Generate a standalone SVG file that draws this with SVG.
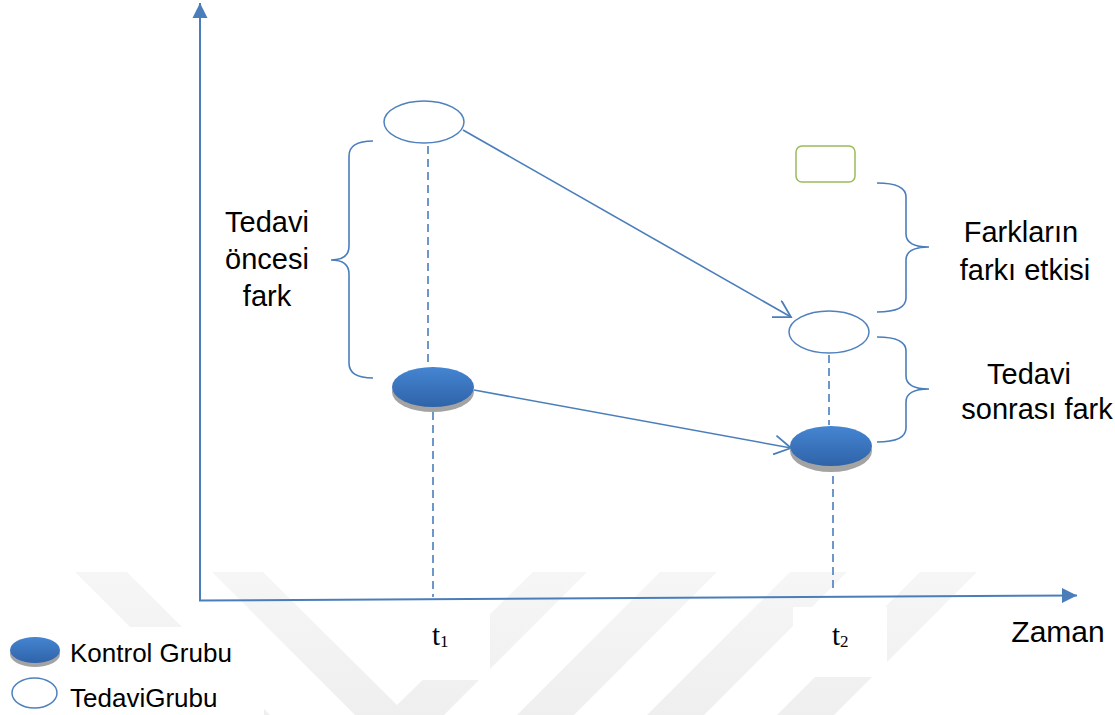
<svg xmlns="http://www.w3.org/2000/svg" width="1115" height="715" viewBox="0 0 1115 715">
  <style>
    .axis { stroke: #4a7ebb; stroke-width: 2; fill: none; }
    .conn { stroke: #4a7ebb; stroke-width: 1.6; fill: none; }
    .dash { stroke: #4a7ebb; stroke-width: 1.6; fill: none; stroke-dasharray: 8 5; }
    .brace { stroke: #4a7ebb; stroke-width: 1.6; fill: none; }
    .open { fill: #ffffff; stroke: #4f81bd; stroke-width: 1.5; }
    .shade { fill: #a3a3a3; }
    .solid { fill: url(#blueFace); }
    .lbl { font-family: "Liberation Sans", Arial, sans-serif; font-size: 29px; fill: #000; text-anchor: middle; }
    .legend { font-family: "Liberation Sans", Arial, sans-serif; font-size: 26px; fill: #000; }
    .tlbl { font-family: "Liberation Serif", "Times New Roman", serif; font-size: 29px; fill: #000; }
    .wm { fill: url(#wmFade); }
  </style>
  <defs>
    <linearGradient id="blueFace" x1="0" y1="0" x2="0" y2="1">
      <stop offset="0" stop-color="#4585d2"/>
      <stop offset="1" stop-color="#2f63a8"/>
    </linearGradient>
    <linearGradient id="wmFade" gradientUnits="userSpaceOnUse" x1="0" y1="572" x2="0" y2="715">
      <stop offset="0" stop-color="#f6f6f6"/>
      <stop offset="1" stop-color="#efefef"/>
    </linearGradient>
    <marker id="openArrow" viewBox="0 0 20 20" refX="18" refY="10" markerWidth="20" markerHeight="20" markerUnits="userSpaceOnUse" orient="auto">
      <path d="M1.5,0.5 L18,10 L1.5,19.5" fill="none" stroke="#4a7ebb" stroke-width="1.8"/>
    </marker>
    <marker id="solidArrow" viewBox="0 0 16 16" refX="15" refY="8" markerWidth="16" markerHeight="16" markerUnits="userSpaceOnUse" orient="auto">
      <path d="M0,0.5 L15,8 L0,15.5 Z" fill="#4a7ebb"/>
    </marker>
  </defs>

  <rect width="1115" height="715" fill="#ffffff"/>

  <!-- faint background stripes -->
  <g id="watermark">
    <polygon class="wm" points="75,572 127,572 270,715 218,715"/>
    <polygon class="wm" points="212,572 263,572 397,705 533,572 587,572 444,715 355,715"/>
    <polygon class="wm" points="660,572 717,572 574,715 517,715"/>
    <polygon class="wm" points="790,572 847,572 704,715 647,715"/>
    <polygon class="wm" points="920,572 977,572 834,715 777,715"/>
    <rect x="0" y="627" width="264" height="88" fill="#ffffff"/>
    <rect x="380" y="605" width="110" height="75" fill="#ffffff"/>
    <rect x="793" y="607" width="94" height="70" fill="#ffffff"/>
  </g>

  <!-- axes -->
  <g id="axes">
    <line class="axis" x1="200" y1="601" x2="200" y2="3" marker-end="url(#solidArrow)"/>
    <line class="axis" x1="199" y1="600.5" x2="1077" y2="595.5" marker-end="url(#solidArrow)"/>
    <text class="lbl" x="1058" y="642" style="font-size:30px">Zaman</text>
    <text class="tlbl" x="432" y="645">t<tspan font-size="17" dy="2">1</tspan></text>
    <text class="tlbl" x="832" y="645">t<tspan font-size="17" dy="2">2</tspan></text>
  </g>

  <!-- connectors: dashed guides, arrows, braces -->
  <g id="connectors">
    <line class="dash" x1="428" y1="146" x2="428" y2="366"/>
    <line class="dash" x1="433" y1="412" x2="433" y2="597"/>
    <line class="dash" x1="829" y1="355" x2="829" y2="425"/>
    <line class="dash" x1="833" y1="476" x2="833" y2="593"/>
    <line class="conn" x1="463" y1="130" x2="791" y2="317" marker-end="url(#openArrow)"/>
    <line class="conn" x1="474" y1="390" x2="791" y2="448" marker-end="url(#openArrow)"/>
    <path class="brace" d="M373,141 Q349,141 349,156 L349,246 Q349,260 331,260 Q349,260 349,274 L349,363 Q349,378 373,378"/>
    <path class="brace" d="M877,183 Q906,183 906,197 L906,234 Q906,247 929,247 Q906,247 906,260 L906,298 Q906,312 877,312"/>
    <path class="brace" d="M877,337 Q906,337 906,351 L906,376 Q906,389 929,389 Q906,389 906,402 L906,428 Q906,442 877,442"/>
  </g>

  <g id="treat-t1">
    <ellipse class="open" cx="424" cy="122" rx="40" ry="21"/>
  </g>
  <g id="control-t1">
    <ellipse class="shade" cx="433" cy="392" rx="41" ry="20"/>
    <ellipse class="solid" cx="433" cy="387" rx="41" ry="20"/>
  </g>
  <g id="treat-t2">
    <ellipse class="open" cx="829" cy="332" rx="40" ry="21"/>
  </g>
  <g id="control-t2">
    <ellipse class="shade" cx="831" cy="451" rx="41" ry="21"/>
    <ellipse class="solid" cx="831" cy="446" rx="41" ry="20"/>
  </g>
  <g id="counterfactual">
    <rect x="796" y="146" width="59" height="36" rx="6" ry="6" fill="#ffffff" stroke="#9bbb59" stroke-width="1.5"/>
  </g>

  <g id="labels">
    <text class="lbl" x="267" y="232">Tedavi</text>
    <text class="lbl" x="267" y="269">öncesi</text>
    <text class="lbl" x="267" y="306">fark</text>
    <text class="lbl" x="1021" y="242">Farkların</text>
    <text class="lbl" x="1025" y="280">farkı etkisi</text>
    <text class="lbl" x="1029" y="384">Tedavi</text>
    <text class="lbl" x="1037" y="419">sonrası fark</text>
  </g>

  <g id="legend">
    <ellipse class="shade" cx="35" cy="654" rx="25" ry="13"/>
    <ellipse class="solid" cx="35" cy="650" rx="25" ry="13"/>
    <text class="legend" x="70" y="662">Kontrol Grubu</text>
    <ellipse class="open" cx="34.5" cy="693" rx="22.5" ry="15"/>
    <text class="legend" x="70" y="707">TedaviGrubu</text>
  </g>
</svg>
